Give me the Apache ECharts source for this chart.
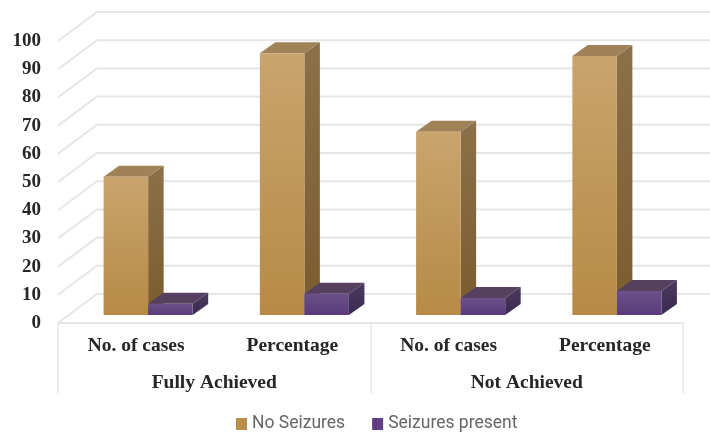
<!DOCTYPE html>
<html>
<head>
<meta charset="utf-8">
<style>html,body{margin:0;padding:0;background:#fff}#chart{width:710px;height:435px}</style>
<script src="https://cdn.jsdelivr.net/npm/echarts@6/dist/echarts.min.js"></script>
</head>
<body>
<div id="chart"></div>
<script>
// Outcome labels and their two-level grouping
const categories = ['No. of cases', 'Percentage', 'No. of cases', 'Percentage'];
const groups = ['Fully Achieved', 'Not Achieved'];
const yTicks = [0, 10, 20, 30, 40, 50, 60, 70, 80, 90, 100];

// Values per series, in category order
const noSeizures = [49, 92.8, 65, 91.8];
const seizuresPresent = [4, 7.5, 6, 8.5];

// Pseudo-3D projection: room depth and bar placement inside it, in pixels
const WALL_DX = 39, WALL_DY = 29;
const BAR_SHIFT_X = 12, BAR_SHIFT_Y = 8;
const BAR_DX = 15.5, BAR_DY = 11;
const BAR_RATIO = 0.285;

const serifBold = { fontFamily: 'Liberation Serif', fontWeight: 'bold', color: '#262626' };

function vGrad(top, bottom) {
  return { type: 'linear', x: 0, y: 0, x2: 0, y2: 1,
    colorStops: [{ offset: 0, color: top }, { offset: 1, color: bottom }] };
}

// One box per category; side = -1 sits left of the slot centre, +1 right of it
function boxRenderer(side, palette) {
  return function (params, api) {
    const base = api.coord([api.value(0), 0]);
    const top = api.coord([api.value(0), api.value(1)]);
    const w = api.size([1, 0])[0] * BAR_RATIO;
    const x0 = base[0] + BAR_SHIFT_X + (side < 0 ? -w : 0);
    const x1 = x0 + w;
    const yb = base[1] - BAR_SHIFT_Y;
    const yt = top[1] - BAR_SHIFT_Y;
    return {
      type: 'group',
      children: [
        { type: 'polygon', shape: { points: [[x1, yb], [x1, yt], [x1 + BAR_DX, yt - BAR_DY], [x1 + BAR_DX, yb - BAR_DY]] },
          style: { fill: vGrad(palette.sideTop, palette.sideBottom) } },
        { type: 'polygon', shape: { points: [[x0, yt], [x1, yt], [x1 + BAR_DX, yt - BAR_DY], [x0 + BAR_DX, yt - BAR_DY]] },
          style: { fill: palette.top } },
        { type: 'rect', shape: { x: x0, y: yt, width: w, height: yb - yt },
          style: { fill: vGrad(palette.frontTop, palette.frontBottom) } }
      ]
    };
  };
}

// Gridline running along the left side wall and then across the back wall
function wallLine(params, api) {
  const front = api.coord([0, api.value(0)]);
  const sys = params.coordSys;
  const xFront = sys.x;
  const xBack = sys.x + WALL_DX;
  const xEnd = sys.x + sys.width + WALL_DX;
  const yBack = front[1] - WALL_DY;
  return {
    type: 'polyline',
    shape: { points: [[xFront, front[1]], [xBack, yBack], [xEnd, yBack]] },
    style: { stroke: '#e6e6e6', lineWidth: 2, fill: null }
  };
}

const tan = { frontTop: '#c9a46e', frontBottom: '#b78a45', top: '#a08258', sideTop: '#8c7047', sideBottom: '#7a5c2e' };
const purple = { frontTop: '#6c5088', frontBottom: '#5a3a7c', top: '#55415f', sideTop: '#4a3a5c', sideBottom: '#3a2a52' };

const chart = echarts.init(document.getElementById('chart'), null, { renderer: 'canvas' });
chart.setOption({
  animation: false,
  backgroundColor: '#fff',
  grid: { left: 58, right: 27, top: 41, bottom: 112, containLabel: false },
  legend: {
    data: ['No Seizures', 'Seizures present'],
    left: 236, top: 415, padding: 0,
    icon: 'rect',
    itemWidth: 11, itemHeight: 12, itemGap: 27,
    textStyle: { fontFamily: 'Roboto', fontSize: 17.5, color: '#666', padding: [0, 0, 4, 0] }
  },
  xAxis: [
    {
      type: 'category', data: categories, position: 'bottom',
      axisLine: { lineStyle: { color: '#e6e6e6', width: 2 } },
      axisTick: { show: false },
      axisLabel: Object.assign({ interval: 0, fontSize: 19.5, margin: 13 }, serifBold)
    },
    {
      type: 'category', data: groups, position: 'bottom',
      axisLine: { show: false },
      axisTick: { show: true, length: 70, lineStyle: { color: '#e6e6e6', width: 1.6 } },
      axisLabel: Object.assign({ interval: 0, fontSize: 19.5, margin: 50 }, serifBold)
    }
  ],
  yAxis: {
    type: 'value', min: 0, max: 100, interval: 10,
    axisLine: { show: false }, axisTick: { show: false }, splitLine: { show: false },
    axisLabel: Object.assign({ fontSize: 19, margin: 17 }, serifBold)
  },
  series: [
    { type: 'custom', name: 'walls', silent: true, z: 1, encode: { y: 0 },
      data: yTicks.map(v => [v]), renderItem: wallLine },
    { type: 'custom', name: 'No Seizures', z: 2, itemStyle: { color: '#b98d4a' },
      encode: { x: 0, y: 1 }, renderItem: boxRenderer(-1, tan),
      data: noSeizures.map((v, i) => [i, v]) },
    { type: 'custom', name: 'Seizures present', z: 3, itemStyle: { color: '#5f3f80' },
      encode: { x: 0, y: 1 }, renderItem: boxRenderer(1, purple),
      data: seizuresPresent.map((v, i) => [i, v]) }
  ]
});
</script>
</body>
</html>
